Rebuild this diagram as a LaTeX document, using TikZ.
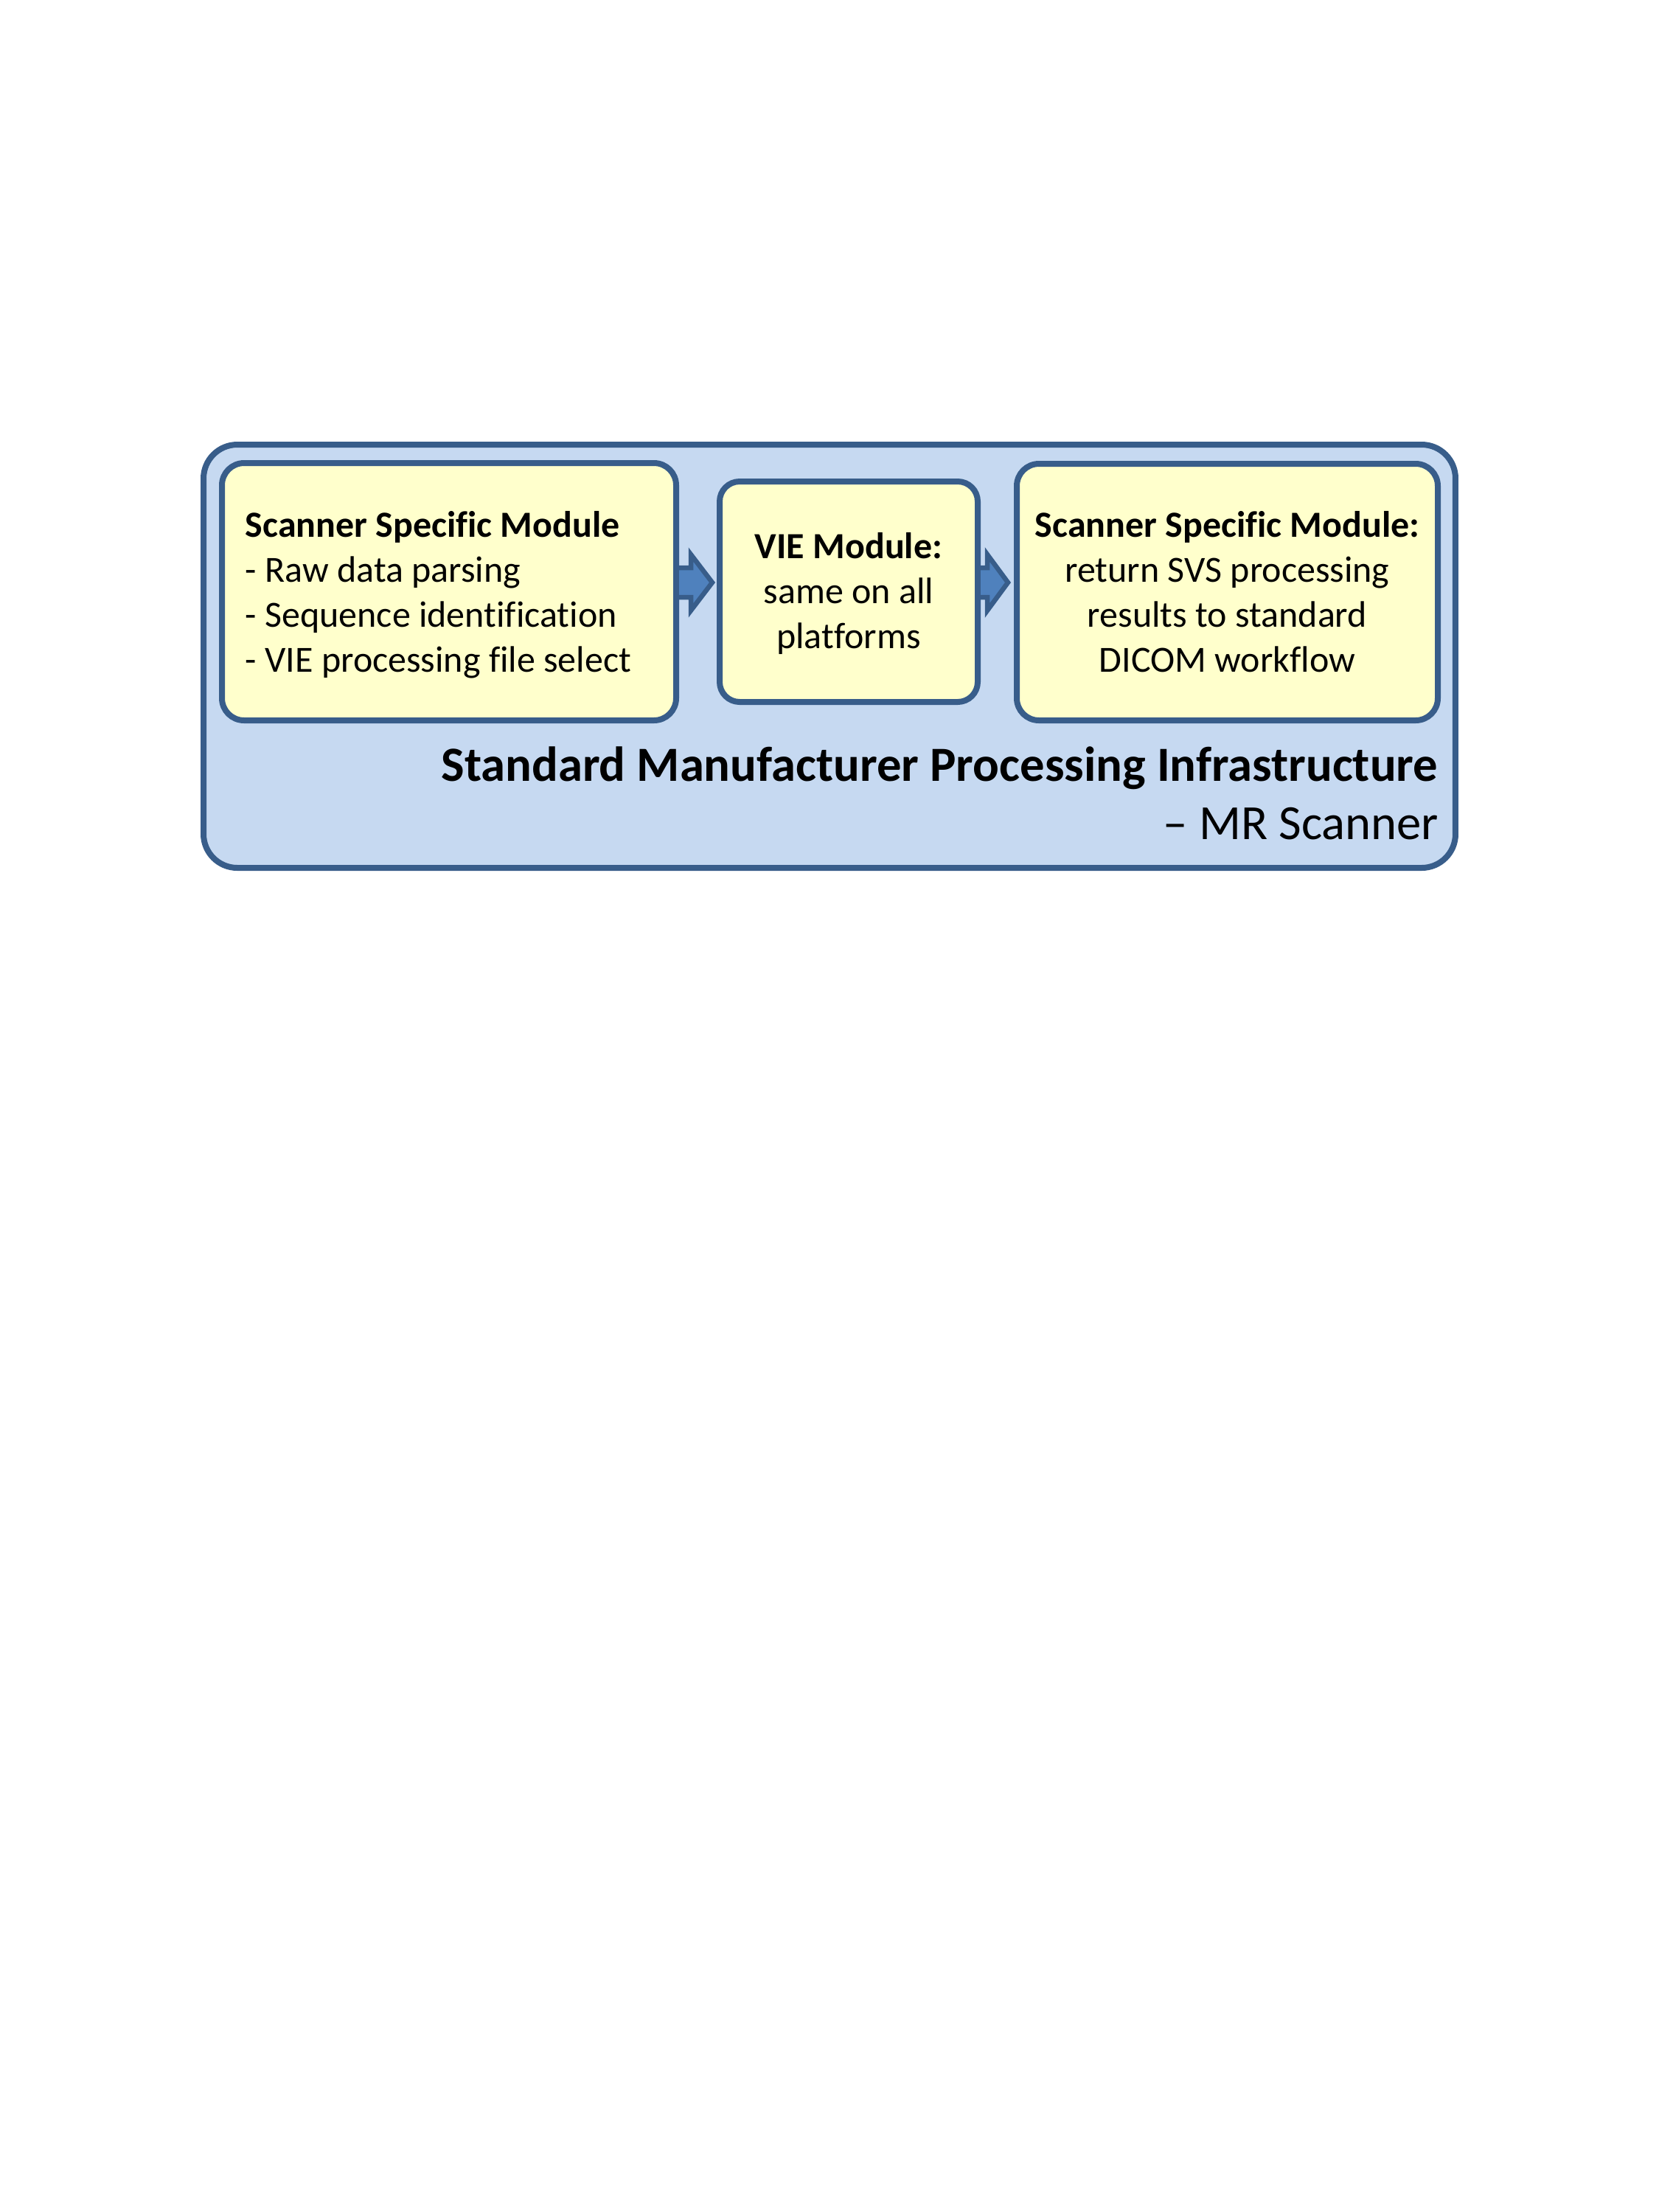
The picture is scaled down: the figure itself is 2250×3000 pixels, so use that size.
\documentclass[tikz,border=0pt]{standalone}
\usepackage{fontspec}
\setmainfont{Carlito}[Ligatures=NoCommon]
\usetikzlibrary{calc}
\definecolor{outerfill}{HTML}{C6D9F1}
\definecolor{edgeblue}{HTML}{385D8A}
\definecolor{boxyellow}{HTML}{FFFFCC}
\definecolor{arrowblue}{HTML}{4F81BD}
\begin{document}
\begin{tikzpicture}[x=0.24pt,y=-0.24pt,
  frame/.style={draw=edgeblue,fill=outerfill,line width=1.92pt,rounded corners=11pt,inner sep=0pt,minimum width=407.52pt,minimum height=137.76pt},
  modbox/.style={draw=edgeblue,fill=boxyellow,line width=1.92pt,rounded corners=7.2pt,inner sep=0pt},
  blockarrow/.style={draw=edgeblue,fill=arrowblue,line width=1.56pt,line join=miter},
  boxtext/.style={inner sep=0pt,font=\fontsize{12}{14.65}\selectfont},
  bigtext/.style={inner sep=0pt,font=\fontsize{16}{19.5}\selectfont,anchor=base east}]
\useasboundingbox[fill=white] (0,0) rectangle (2250,3000);
% outer frame
\node[frame] (outer) at (1125,890) {};
% module boxes
\node[modbox,minimum width=147.84pt,minimum height=83.76pt] (b1) at (609,802.5) {};
\node[modbox,rounded corners=6.5pt,minimum width=84pt,minimum height=71.76pt] (b2) at (1151,802.5) {};
\node[modbox,minimum width=137.04pt,minimum height=83.52pt] (b3) at (1664.5,803) {};
% block arrows
\coordinate (s1) at ($(b1.east)+(0,-12.5)$);
\coordinate (t1) at ($(b2.west)+(-6,-12.5)$);
\coordinate (s2) at ($(b2.east)+(0,-12.5)$);
\coordinate (t2) at ($(b3.west)+(-8,-13)$);
\draw[blockarrow] ($(s1)+(0,-20)$) -- ($(t1)+(-29,-20)$) -- ($(t1)+(-29,-38)$) -- (t1)
  -- ($(t1)+(-29,38)$) -- ($(t1)+(-29,20)$) -- ($(s1)+(0,20)$);
\draw[blockarrow] ($(s2)+(0,-20)$) -- ($(t2)+(-28,-20)$) -- ($(t2)+(-28,-38)$) -- (t2)
  -- ($(t2)+(-28,38)$) -- ($(t2)+(-28,20)$) -- ($(s2)+(0,20)$);
% box 1 text
\node[boxtext,anchor=base west] (l1a) at (332,728) {\bfseries Scanner Specific Module};
\node[boxtext,anchor=base west] (l1b) at (332,789) {- Raw data parsing};
\node[boxtext,anchor=base west] (l1c) at (332,850) {- Sequence identification};
\node[boxtext,anchor=base west] (l1d) at (332,911) {- VIE processing file select};
% box 2 text
\node[boxtext,anchor=base] (l2a) at (b2.center |- 0,757.5) {\bfseries VIE Module:};
\node[boxtext,anchor=base] (l2b) at (b2.center |- 0,818.5) {same on all};
\node[boxtext,anchor=base] (l2c) at (b2.center |- 0,879.5) {platforms};
% box 3 text
\node[boxtext,anchor=base] (l3a) at (b3.center |- 0,728) {\bfseries Scanner Specific Module:};
\node[boxtext,anchor=base] (l3b) at (b3.center |- 0,789) {return SVS processing};
\node[boxtext,anchor=base] (l3c) at (b3.center |- 0,850) {results to standard};
\node[boxtext,anchor=base] (l3d) at (b3.center |- 0,911) {DICOM workflow};
% frame caption
\node[bigtext] (title) at (1951,1059) {\bfseries Standard Manufacturer Processing Infrastructure};
\node[bigtext] (sub) at (1952,1138) {– MR Scanner};
\end{tikzpicture}
\end{document}
